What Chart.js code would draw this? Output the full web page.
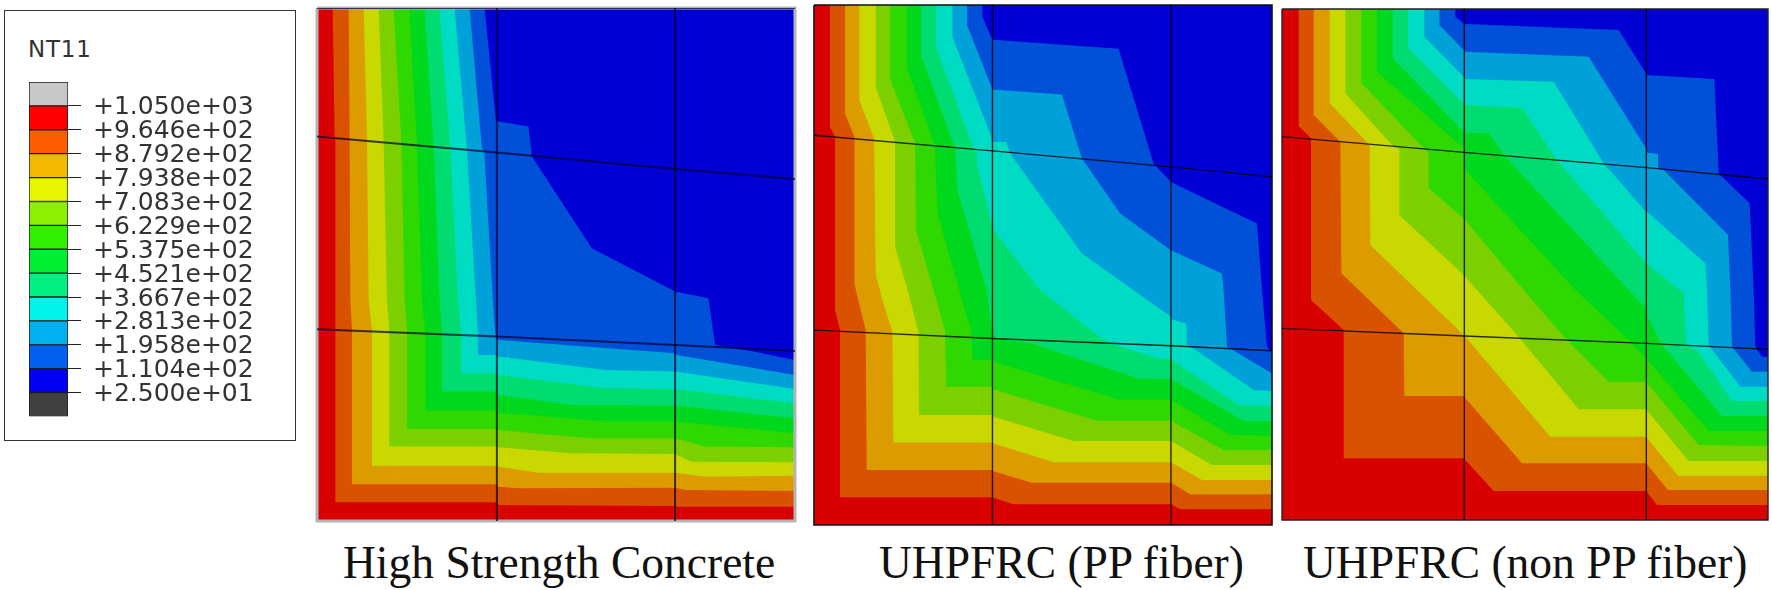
<!DOCTYPE html>
<html>
<head>
<meta charset="utf-8">
<title>NT11</title>
<script src="https://cdn.jsdelivr.net/npm/chart.js@4"></script>
<style>
  html, body { margin: 0; background: #fff; width: 1772px; height: 590px; overflow: hidden; }
  .box { position: absolute; }
  .legendBox { left: 4px; top: 10px; width: 290px; height: 429px; border: 1.5px solid #333; }
  .nt { left: 28px; top: 36px; font: 23px "DejaVu Sans"; color: #333; letter-spacing: 0.8px; }
  .caption { top: 536px; font: 45.5px "Liberation Serif"; color: #111; white-space: nowrap; }
</style>
</head>
<body>
<div class="box legendBox"></div>
<div class="box nt">NT11</div>
<div class="box" style="left:27px;top:70px;width:260px;height:360px"><canvas id="legend"></canvas></div>
<div class="box" style="left:314px;top:5px;width:484px;height:519px"><canvas id="hsc"></canvas></div>
<div class="box" style="left:811px;top:2px;width:464px;height:526px"><canvas id="pp"></canvas></div>
<div class="box" style="left:1279px;top:6px;width:492px;height:517px"><canvas id="nonpp"></canvas></div>
<div class="box caption" style="left:343px">High Strength Concrete</div>
<div class="box caption" style="left:879px">UHPFRC (PP fiber)</div>
<div class="box caption" style="left:1303px">UHPFRC (non PP fiber)</div>

<script>
const legendValues = [25, 110.4, 195.8, 281.3, 366.7, 452.1, 537.5, 622.9, 708.3, 793.8, 879.2, 964.6, 1050]
const legendLabels = ['+2.500e+01', '+1.104e+02', '+1.958e+02', '+2.813e+02', '+3.667e+02', '+4.521e+02', '+5.375e+02',
  '+6.229e+02', '+7.083e+02', '+7.938e+02', '+8.792e+02', '+9.646e+02', '+1.050e+03']
const legendLow = -60.4
const legendHigh = 1135.4
const legendColors = ['#404040', '#0000f4', '#0060f0', '#00b0f0', '#00f4ec', '#00f084', '#00f030', '#30f000',
  '#8cf000', '#e6f500', '#f5b800', '#ff5c00', '#ff0000', '#c8c8c8']

// colours of the bands in the plots, cold to hot
const bandColors = ['#0000d4', '#0050d8', '#00a0d8', '#00dcc4', '#00dc70', '#00d81e', '#2ed800', '#7cd000',
  '#c8d800', '#dc9c00', '#d95200', '#d80000']

// isotherms, hottest first, each one from the top edge to the right edge of its plot
const hscIsotherms = [
  [[82,25],[88,410],[90,425],[90,1507],[570,1507],[580,1515],[1110,1518],[1115,1520],[1470,1520]],
  [[130,25],[133,415],[135,900],[140,988],[140,1453],[570,1453],[580,1460],[640,1465],[1110,1463],[1140,1470],[1470,1473]],
  [[175,25],[185,415],[190,900],[200,990],[200,1397],[570,1397],[580,1400],[700,1418],[1110,1418],[1200,1430],[1470,1427]],
  [[220,25],[235,420],[245,900],[252,990],[252,1340],[570,1340],[580,1342],[800,1360],[1110,1362],[1160,1385],[1470,1387]],
  [[265,25],[288,425],[298,900],[305,990],[305,1287],[570,1287],[580,1290],[850,1315],[1110,1315],[1200,1340],[1470,1342]],
  [[312,25],[335,430],[350,900],[360,995],[360,1232],[570,1232],[580,1238],[900,1265],[1110,1265],[1470,1300]],
  [[357,25],[385,435],[403,900],[410,995],[410,1175],[570,1175],[580,1185],[800,1215],[1110,1217],[1470,1255]],
  [[402,25],[435,440],[458,900],[468,1000],[468,1120],[570,1120],[580,1125],[900,1165],[1110,1167],[1470,1210]],
  [[448,25],[485,445],[512,900],[518,1000],[518,1065],[570,1065],[580,1070],[900,1110],[1110,1115],[1470,1167]],
  [[493,25],[530,445],[537,455],[563,900],[570,1000],[575,1010],[580,1020],[1110,1060],[1115,1065],[1470,1125]],
  [[538,25],[572,360],[580,365],[670,380],[680,470],[860,745],[1110,875],[1210,895],[1230,1035],[1330,1052],[1470,1080]],
]
const ppIsotherms = [
  [[75,14],[75,380],[90,410],[90,930],[105,990],[105,1492],[560,1492],[625,1513],[1097,1513],[1125,1528],[1400,1528]],
  [[120,14],[120,340],[148,410],[148,850],[155,880],[182,990],[185,1410],[560,1410],[570,1415],[680,1448],[1097,1448],[1155,1483],[1400,1483]],
  [[163,14],[163,300],[207,415],[212,820],[232,900],[262,995],[265,1327],[560,1327],[565,1330],[745,1387],[1097,1387],[1190,1440],[1400,1440]],
  [[212,14],[212,260],[270,425],[270,740],[312,885],[340,995],[342,1245],[560,1245],[565,1250],[805,1323],[1097,1323],[1220,1395],[1400,1395]],
  [[255,14],[255,235],[330,430],[333,690],[390,885],[420,995],[423,1160],[560,1160],[565,1168],[875,1262],[1097,1262],[1255,1350],[1400,1350]],
  [[305,14],[305,200],[390,440],[397,640],[468,890],[500,1000],[502,1080],[560,1080],[565,1085],[940,1198],[1097,1198],[1275,1305],[1400,1307]],
  [[348,14],[348,165],[450,445],[457,570],[545,870],[560,985],[570,1015],[680,1030],[1000,1135],[1097,1137],[1315,1263],[1400,1263]],
  [[393,14],[393,140],[505,445],[515,455],[515,490],[555,650],[565,690],[705,870],[895,1020],[930,1035],[1060,1075],[1097,1075],[1100,1080],[1300,1215],[1400,1218]],
  [[442,14],[442,110],[555,400],[560,425],[603,425],[615,460],[830,760],[985,870],[1097,950],[1100,958],[1143,970],[1145,1035],[1165,1045],[1345,1170],[1400,1173]],
  [[486,14],[486,75],[555,250],[562,268],[770,283],[830,475],[945,640],[1097,750],[1100,752],[1250,820],[1255,870],[1265,1040],[1280,1048],[1400,1120]],
  [[532,14],[532,50],[558,110],[565,118],[940,145],[1045,490],[1097,545],[1355,670],[1370,870],[1385,1040],[1397,1055],[1400,1055]],
]
const nonPpIsotherms = [
  [[70,27],[70,378],[107,415],[107,900],[205,990],[205,1375],[565,1375],[570,1380],[655,1473],[1112,1473],[1145,1515],[1478,1515]],
  [[115,27],[115,345],[195,425],[198,820],[385,1000],[387,1188],[565,1188],[570,1195],[740,1390],[1112,1390],[1178,1470],[1478,1470]],
  [[163,27],[163,310],[283,435],[285,735],[565,1005],[570,1010],[825,1310],[1112,1310],[1208,1427],[1478,1427]],
  [[210,27],[210,280],[355,440],[372,447],[372,645],[565,825],[725,1005],[910,1228],[1112,1228],[1240,1383],[1478,1383]],
  [[258,27],[258,248],[445,445],[460,460],[460,565],[565,655],[745,870],[870,1015],[1000,1145],[1112,1145],[1270,1335],[1478,1338]],
  [[305,27],[305,215],[565,445],[570,510],[900,870],[1060,1020],[1112,1075],[1115,1078],[1300,1293],[1478,1293]],
  [[352,27],[352,175],[565,395],[570,398],[640,400],[690,470],[1060,870],[1112,925],[1115,945],[1160,1035],[1340,1248],[1478,1248]],
  [[398,27],[398,145],[565,310],[570,315],[740,323],[845,480],[1112,790],[1225,880],[1232,1035],[1265,1050],[1370,1203],[1478,1203]],
  [[447,27],[447,110],[565,230],[570,237],[835,245],[985,490],[1112,635],[1115,635],[1290,790],[1295,870],[1300,1035],[1395,1160],[1478,1160]],
  [[492,27],[492,75],[565,150],[570,155],[940,170],[1112,445],[1115,458],[1148,462],[1148,505],[1165,510],[1358,705],[1365,870],[1370,1040],[1430,1115],[1478,1115]],
  [[540,27],[540,50],[565,70],[570,72],[1030,90],[1112,220],[1115,225],[1317,237],[1330,520],[1340,530],[1423,610],[1435,870],[1440,1040],[1460,1070],[1478,1070]],
]

// element edges drawn over the contours
const hscMesh = [
  [[35,25],[1470,25]],
  [[35,410],[575,458],[1110,508],[1470,538]],
  [[35,988],[575,1010],[1110,1035],[1470,1053]],
  [[575,25],[575,1563]],
  [[1110,25],[1110,1563]],
]
const ppMesh = [
  [[27,405],[562,452],[1097,500],[1400,530]],
  [[27,990],[562,1015],[1097,1037],[1400,1052]],
  [[562,14],[562,1575]],
  [[1097,14],[1097,1575]],
]
const nonPpMesh = [
  [[20,410],[567,457],[1113,503],[1478,537]],
  [[20,985],[567,1008],[1113,1030],[1478,1048]],
  [[567,27],[567,1560]],
  [[1113,27],[1113,1560]],
]

const toPoints = (line) => line.map(([x, y]) => ({ x, y }))

const createPlot = (id, isotherms, mesh, [xMin, xMax, yMin, yMax], frameColor, frameWidth, meshColor, meshWidth) => {
  const outline = { data: toPoints([[xMin, yMin], [xMax, yMin], [xMax, yMax], [xMin, yMax], [xMin, yMin]]), borderColor: frameColor, borderWidth: frameWidth, clip: false, fill: false }
  const lines = mesh.map((line) => ({ data: toPoints(line), borderColor: meshColor, borderWidth: meshWidth, fill: false }))
  // first dataset is drawn last, so the hottest band goes before the colder ones
  const bands = isotherms.map((line, i) => ({
    data: toPoints([[xMin, yMin], ...line]),
    backgroundColor: bandColors[bandColors.length - 1 - i],
    borderWidth: 0,
    fill: { target: { value: yMax } },
  }))
  const coldest = {
    data: toPoints([[xMin, yMin], [xMax, yMin]]),
    backgroundColor: bandColors[0],
    borderWidth: 0,
    fill: { target: { value: yMax } },
  }
  new Chart(document.getElementById(id), {
    type: 'scatter',
    data: { datasets: [...lines, outline, ...bands, coldest] },
    options: {
      responsive: true,
      maintainAspectRatio: false,
      animation: false,
      events: [],
      showLine: true,
      pointRadius: 0,
      layout: { padding: 3 },
      plugins: { legend: { display: false }, tooltip: { enabled: false } },
      scales: {
        x: { type: 'linear', display: false, min: xMin, max: xMax },
        y: { type: 'linear', display: false, min: yMin, max: yMax, reverse: true },
      },
    },
  })
}

createPlot('hsc', hscIsotherms, hscMesh, [35, 1470, 25, 1563], '#b4b4b4', 3, 'rgba(0,0,50,0.72)', 2)
createPlot('pp', ppIsotherms, ppMesh, [27, 1400, 14, 1575], '#111', 1.6, 'rgba(0,0,0,0.8)', 1.4)
createPlot('nonpp', nonPpIsotherms, nonPpMesh, [20, 1478, 27, 1560], '#222', 1.4, 'rgba(0,0,0,0.8)', 1.4)

const legendEdges = [legendLow, ...legendValues, legendHigh]
new Chart(document.getElementById('legend'), {
  type: 'bar',
  data: {
    labels: ['NT11'],
    datasets: legendColors.map((color, i) => ({
      data: [[legendEdges[i], legendEdges[i + 1]]],
      backgroundColor: color,
      borderColor: '#1a1a1a',
      borderWidth: 1,
      borderSkipped: false,
      grouped: false,
      barPercentage: 1,
      categoryPercentage: 1,
    })),
  },
  options: {
    responsive: true,
    maintainAspectRatio: false,
    animation: false,
    events: [],
    layout: { padding: { left: 2, top: 12, bottom: 13.5, right: 0 } },
    plugins: { legend: { display: false }, tooltip: { enabled: false } },
    scales: {
      x: { display: false },
      y: {
        position: 'right',
        min: legendLow,
        max: legendHigh,
        afterBuildTicks: (scale) => { scale.ticks = legendValues.map((value) => ({ value })) },
        afterFit: (scale) => {
          scale.width = 219
          scale.paddingTop = 0
          scale.paddingBottom = 0
        },
        border: { display: false },
        grid: { drawOnChartArea: false, drawTicks: true, tickLength: 13, color: '#222', lineWidth: 1 },
        ticks: {
          autoSkip: false,
          padding: 12,
          labelOffset: 2,
          color: '#333',
          font: { family: 'DejaVu Sans', size: 25 },
          callback: (value, i) => legendLabels[i],
        },
      },
    },
  },
})
</script>
</body>
</html>
